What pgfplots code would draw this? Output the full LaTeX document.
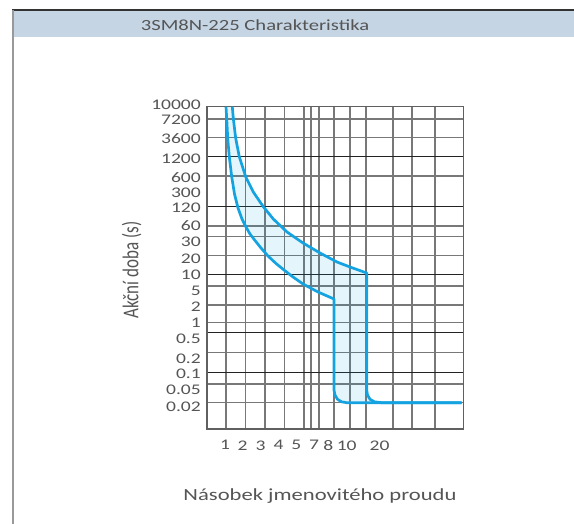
\documentclass[border=0pt]{standalone}
\usepackage{pgfplots}
\pgfplotsset{compat=1.18}
\usepackage{graphicx}
\usepackage{fontspec}
\setmainfont{Carlito}
\newcommand{\sx}[1]{\scalebox{1.33}[1]{#1}}
\definecolor{curve}{RGB}{20,163,224}
\definecolor{hdr}{RGB}{197,213,228}
\definecolor{gridg}{RGB}{120,120,120}
\definecolor{gridd}{RGB}{35,35,35}
\definecolor{txt}{RGB}{85,85,85}
\begin{document}
\begin{tikzpicture}[x=1pt,y=1pt]
\path[use as bounding box] (0,0) rectangle (574,524);
\fill[hdr] (12,514) rectangle (574,487.3);
\draw[line width=1.5pt, black!80] (12,514) -- (574,514);
\draw[line width=2pt, black!40] (13,514) -- (13,0);
\node[anchor=base, font=\fontsize{15.5}{18}\selectfont, text=txt, inner sep=0pt] at (255,493.3) {\sx{3SM8N-225 Charakteristika}};
\begin{axis}[
  at={(206.7pt,95pt)}, anchor=south west,
  scale only axis, width=256.6pt, height=322.3pt,
  xmin=206.7, xmax=463.3, ymin=106.7, ymax=429, y dir=reverse,
  axis line style={gridg!80!black, line width=1.6pt},
  major tick length=0pt, minor tick length=0pt,
  xtick={226,245.3,265,284.3,304,311,319,334,350,366,393,412,435},
  xticklabels={},
  ytick={156.7,206.7,274.3,332.7,372.3},
  yticklabels={},
  minor ytick={119,137.7,176,226,236.7,255.7,286,305,322.3,352.3,384,402.7},
  xmajorgrids, ymajorgrids, yminorgrids,
  major x grid style={gridg, line width=1.5pt},
  major y grid style={gridd, line width=1.4pt},
  minor y grid style={gridg, line width=1.5pt},
  tick label style={font=\fontsize{14.7}{17}\selectfont, text=txt},
  yticklabel style={anchor=east, inner sep=0pt, xshift=-5.7pt},
  xticklabel style={anchor=north, inner sep=0pt, yshift=-11.3pt},
  extra x ticks={225,242.7,260.7,278.7,296.3,314,328.3,346.7,379.5},
  extra x tick labels={\sx{1},\sx{2},\sx{3},\sx{4},\sx{5},\sx{7},\sx{8},\sx{10},\sx{20}},
  extra x tick style={grid=none},
  extra y ticks={106.7,120,139,158.3,177.3,192.3,207.3,226,241.7,258.3,275,291,306.7,322.7,338.3,358.3,373.3,389.3,406.7},
  extra y tick labels={\raisebox{2pt}[\height][\depth]{\sx{10000}},\sx{7200},\sx{3600},\sx{1200},\sx{600},\sx{300},\sx{120},\sx{60},\sx{30},\sx{20},\sx{10},\sx{5},\sx{2},\sx{1},\sx{0.5},\sx{0.2},\sx{0.1},\sx{0.05},\sx{0.02}},
  extra y tick style={grid=none},
  xlabel={\sx{Násobek jmenovitého proudu}},
  xlabel style={at={(axis description cs:0.4415,-0.2203)}, anchor=base, font=\fontsize{17}{20}\selectfont, text=txt, inner sep=0pt},
  ylabel={\scalebox{1}[1.33]{Akční doba (s)}},
  ylabel style={at={(axis description cs:-0.2666,0.4933)}, anchor=base, font=\fontsize{17}{20}\selectfont, text=txt, inner sep=0pt},
]
% band between the two trip curves
\addplot[draw=none, fill=curve, fill opacity=0.115] coordinates {
 (226,106.7) (226.7,118.3) (227.7,138.3) (229.3,156.7) (231.7,176.7) (234.5,194)
 (238,208) (242,219) (246,227) (250,234) (255,240.5) (261,248) (268,256)
 (276,263.5) (284,270) (293,277) (303,284) (318,292) (334,299)
 (334,390) (335,395) (337.5,399.3) (341.5,401.8) (346.7,402.7)
 (381.7,402.7) (374.5,401.8) (370,399.3) (367.5,395) (366.7,390)
 (366.7,273) (350,267) (337,262) (320,253) (303,243) (287,232)
 (273.3,219) (263.3,206.7) (253.3,192) (245.7,176.7) (239.3,156.7)
 (235.7,138.3) (233.3,118.3) (232.3,106.7)
} -- cycle;
% lower (fast) curve
\addplot[curve, line width=2.7pt, line join=round] coordinates {
 (226,106.7) (226.7,118.3) (227.7,138.3) (229.3,156.7) (231.7,176.7) (234.5,194)
 (238,208) (242,219) (246,227) (250,234) (255,240.5) (261,248) (268,256)
 (276,263.5) (284,270) (293,277) (303,284) (318,292) (334,299)
 (334,390) (335,395) (337.5,399.3) (341.5,401.8) (346.7,402.7) (461.7,402.7)
};
% upper (slow) curve
\addplot[curve, line width=2.7pt, line join=round] coordinates {
 (232.3,106.7) (233.3,118.3) (235.7,138.3) (239.3,156.7) (245.7,176.7)
 (253.3,192) (263.3,206.7) (273.3,219) (287,232) (303,243) (320,253)
 (337,262) (350,267) (366.7,273)
 (366.7,390) (367.5,395) (370,399.3) (374.5,401.8) (381.7,402.7) (461.7,402.7)
};
\end{axis}
\end{tikzpicture}
\end{document}
